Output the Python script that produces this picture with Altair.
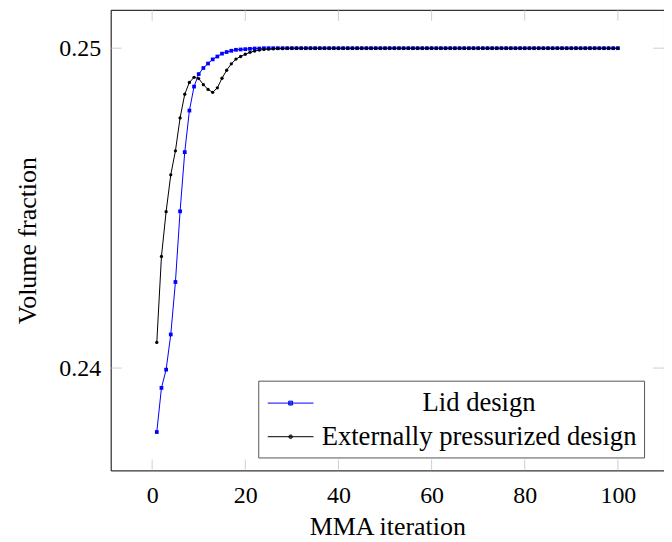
import altair as alt
import pandas as pd

iterations = list(range(1, 101))
series_names = ["Lid design", "Externally pressurized design"]
series_colors = ["#0000ff", "#000000"]

lid = [0.2380, 0.23938, 0.23995, 0.24105, 0.24269, 0.24490, 0.24675, 0.24805, 0.24880, 0.24919,
       0.24938, 0.24952, 0.24965, 0.24974, 0.24983, 0.24988, 0.24992, 0.24995, 0.24996, 0.24997,
       0.24998, 0.24999, 0.24999, 0.25, 0.25, 0.25, 0.25, 0.25, 0.25, 0.25,
       0.25, 0.25, 0.25, 0.25, 0.25, 0.25, 0.25, 0.25, 0.25, 0.25,
       0.25, 0.25, 0.25, 0.25, 0.25, 0.25, 0.25, 0.25, 0.25, 0.25,
       0.25, 0.25, 0.25, 0.25, 0.25, 0.25, 0.25, 0.25, 0.25, 0.25,
       0.25, 0.25, 0.25, 0.25, 0.25, 0.25, 0.25, 0.25, 0.25, 0.25,
       0.25, 0.25, 0.25, 0.25, 0.25, 0.25, 0.25, 0.25, 0.25, 0.25,
       0.25, 0.25, 0.25, 0.25, 0.25, 0.25, 0.25, 0.25, 0.25, 0.25,
       0.25, 0.25, 0.25, 0.25, 0.25, 0.25, 0.25, 0.25, 0.25, 0.25]

ext = [0.24080, 0.24349, 0.24489, 0.24604, 0.24679, 0.24782, 0.24856, 0.24893, 0.24909, 0.24905,
       0.24886, 0.24871, 0.24862, 0.24876, 0.24906, 0.24931, 0.24951, 0.24966, 0.24974, 0.24981,
       0.24987, 0.24991, 0.24994, 0.24996, 0.24997, 0.24998, 0.24999, 0.24999, 0.25, 0.25,
       0.25, 0.25, 0.25, 0.25, 0.25, 0.25, 0.25, 0.25, 0.25, 0.25,
       0.25, 0.25, 0.25, 0.25, 0.25, 0.25, 0.25, 0.25, 0.25, 0.25,
       0.25, 0.25, 0.25, 0.25, 0.25, 0.25, 0.25, 0.25, 0.25, 0.25,
       0.25, 0.25, 0.25, 0.25, 0.25, 0.25, 0.25, 0.25, 0.25, 0.25,
       0.25, 0.25, 0.25, 0.25, 0.25, 0.25, 0.25, 0.25, 0.25, 0.25,
       0.25, 0.25, 0.25, 0.25, 0.25, 0.25, 0.25, 0.25, 0.25, 0.25,
       0.25, 0.25, 0.25, 0.25, 0.25, 0.25, 0.25, 0.25, 0.25, 0.25]

x_ticks = [0, 20, 40, 60, 80, 100]
y_ticks = [0.24, 0.25]
x_domain = [-8.9, 109.9]
y_domain = [0.2368, 0.2512]
x_title = "MMA iteration"
y_title = "Volume fraction"

FONT = "Liberation Serif"
TICK_COLOR = "#bbbbbb"

df = pd.DataFrame({
    "iter": iterations + iterations,
    "vf": lid + ext,
    "series": [series_names[0]] * len(lid) + [series_names[1]] * len(ext),
})
xt = pd.DataFrame({"t": x_ticks})
yt = pd.DataFrame({"t": y_ticks})

xs = alt.Scale(domain=x_domain, nice=False, zero=False)
ys = alt.Scale(domain=y_domain, nice=False, zero=False)
cs = alt.Scale(domain=series_names, range=series_colors)

x_axis = alt.Axis(values=x_ticks, labelPadding=13, titlePadding=6)
y_axis = alt.Axis(values=y_ticks, format=".2f", labelPadding=10, titlePadding=18)

# legend symbols: a line with the series marker in the middle
lid_sym = "M-1.53,0H1.53M-0.13,-0.13H0.13V0.13H-0.13Z"
ext_sym = "M-1.53,0H1.53M0.12,0A0.12,0.12,0,1,1,-0.12,0A0.12,0.12,0,1,1,0.12,0Z"

legend = alt.Legend(
    title=None, orient="none", legendX=148, legendY=372, direction="vertical",
    padding=7, rowPadding=3.7, symbolSize=900, symbolStrokeWidth=1, symbolOffset=10,
    labelOffset=173.5, labelAlign="center", labelFont=FONT, labelFontSize=26.7,
    labelColor="black", labelLimit=600, strokeColor="#555555", fillColor="white",
    symbolOpacity=1,
)


def X(field):
    return alt.X(field, scale=xs, axis=x_axis, title=x_title)


def Y(field):
    return alt.Y(field, scale=ys, axis=y_axis, title=y_title)


lines = alt.Chart(df).mark_line(strokeWidth=1).encode(
    x=X("iter:Q"), y=Y("vf:Q"),
    color=alt.Color("series:N", scale=cs, sort=series_names, legend=legend),
    order=alt.Order("iter:Q"),
)

xtick_bottom = alt.Chart(xt).mark_tick(orient="vertical", size=11, thickness=1, color=TICK_COLOR, yOffset=-5.5).encode(
    x=X("t:Q"), y=alt.YDatum(y_domain[0], title=y_title))
xtick_top = alt.Chart(xt).mark_tick(orient="vertical", size=11, thickness=1, color=TICK_COLOR, yOffset=5.5).encode(
    x=X("t:Q"), y=alt.YDatum(y_domain[1], title=y_title))
ytick_left = alt.Chart(yt).mark_tick(orient="horizontal", size=11, thickness=1, color=TICK_COLOR, xOffset=5.5).encode(
    y=Y("t:Q"), x=alt.XDatum(x_domain[0], title=x_title))
ytick_right = alt.Chart(yt).mark_tick(orient="horizontal", size=11, thickness=1, color=TICK_COLOR, xOffset=-5.5).encode(
    y=Y("t:Q"), x=alt.XDatum(x_domain[1], title=x_title))

lid_points = alt.Chart(df).transform_filter(alt.datum.series == series_names[0]).mark_point(
    shape="square", filled=True, opacity=1, size=14, color=series_colors[0]).encode(
    x=X("iter:Q"), y=Y("vf:Q"))
ext_points = alt.Chart(df).transform_filter(alt.datum.series == series_names[1]).mark_point(
    shape="circle", filled=True, opacity=1, size=11, color=series_colors[1]).encode(
    x=X("iter:Q"), y=Y("vf:Q"))

# invisible layer that only carries the legend symbols (line + marker)
legend_layer = alt.Chart(df).mark_point(filled=True, opacity=0, strokeWidth=1).encode(
    x=X("iter:Q"), y=Y("vf:Q"),
    shape=alt.Shape("series:N", scale=alt.Scale(domain=series_names, range=[lid_sym, ext_sym]), sort=series_names, legend=legend),
)

chart = alt.layer(lines, xtick_bottom, xtick_top, ytick_left, ytick_right, lid_points, ext_points, legend_layer).properties(
    width=555, height=462,
    background="white",
    autosize=alt.AutoSizeParams(type="none"),
    padding={"left": 103, "top": 1, "right": 0, "bottom": 70},
).configure_view(stroke="black", strokeWidth=1, fill=None).configure_axis(
    labelFont=FONT, labelFontSize=24, labelColor="black",
    titleFont=FONT, titleFontSize=26, titleFontWeight="normal", titleColor="black",
    ticks=False, domain=False, grid=False,
)

chart.save("out.html", embed_options={"renderer": "svg", "actions": False})
